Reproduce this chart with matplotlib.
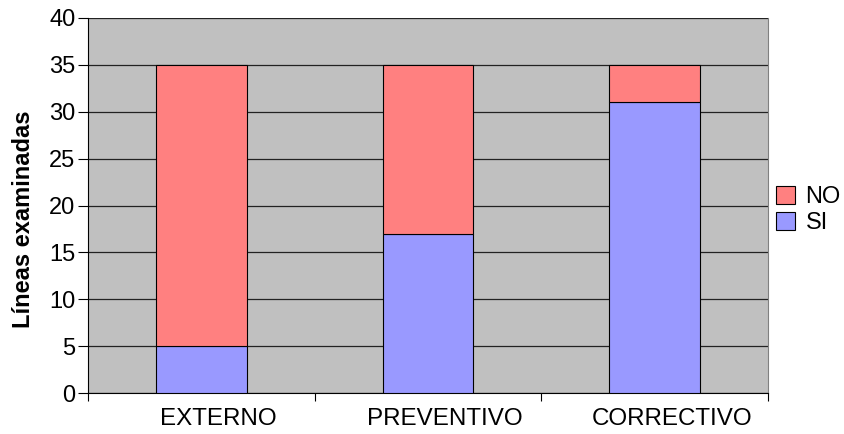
import matplotlib
matplotlib.use("Agg")
import matplotlib.pyplot as plt
import matplotlib.transforms as mtransforms
import numpy as np

categories = ["EXTERNO", "PREVENTIVO", "CORRECTIVO"]
si_values = [5, 17, 31]
no_values = [30, 18, 4]
y_ticks = [0, 5, 10, 15, 20, 25, 30, 35, 40]

plt.rcParams["font.family"] = ["Liberation Sans", "DejaVu Sans"]

fig = plt.figure(figsize=(8.45, 4.34), dpi=100)
ax = fig.add_axes([88 / 845, 1 - 393 / 434, 680 / 845, 375 / 434])
ax.set_facecolor("#C0C0C0")

x = np.arange(len(categories))
w = 0.4
ax.bar(x, si_values, w, color="#9999FF", edgecolor="black", linewidth=0.8,
       label="SI", zorder=3)
ax.bar(x, no_values, w, bottom=si_values, color="#FF8080", edgecolor="black",
       linewidth=0.8, label="NO", zorder=3)

ax.set_xlim(-0.5, len(categories) - 0.5)
ax.set_ylim(0, 40)
ax.set_yticks(y_ticks)
ax.tick_params(axis="y", labelsize=17, length=7, width=0.8, pad=2)
ax.yaxis.grid(True, color="#222222", linewidth=0.9, zorder=1)
ax.set_axisbelow(True)

# category labels under the bars, ticks at category boundaries
ax.set_xticks(x)
ax.set_xticklabels(categories, fontsize=17.4)
ax.tick_params(axis="x", length=0, pad=11)
ax.set_xticks(np.arange(len(categories) + 1) - 0.5, minor=True)
ax.tick_params(axis="x", which="minor", length=6, width=0.8, direction="out")
shift = mtransforms.ScaledTranslation(0.17, 0, fig.dpi_scale_trans)
for lbl in ax.get_xticklabels():
    lbl.set_transform(lbl.get_transform() + shift)

ax.spines["top"].set_visible(False)
ax.spines["right"].set_color("#808080")
ax.spines["left"].set_color("black")
ax.spines["bottom"].set_color("black")

ax.set_ylabel("Líneas examinadas", fontsize=17, fontweight="bold")
ax.yaxis.set_label_coords(-0.078, 0.463)

handles, labels = ax.get_legend_handles_labels()
fig.legend(handles[::-1], labels[::-1], loc="center left",
           bbox_to_anchor=(776 / 845, 1 - 210 / 434), frameon=False,
           fontsize=17, handlelength=0.8, handleheight=0.8,
           handletextpad=0.45, labelspacing=0.15, borderpad=0,
           borderaxespad=0)

fig.savefig("out.png", dpi=100)
